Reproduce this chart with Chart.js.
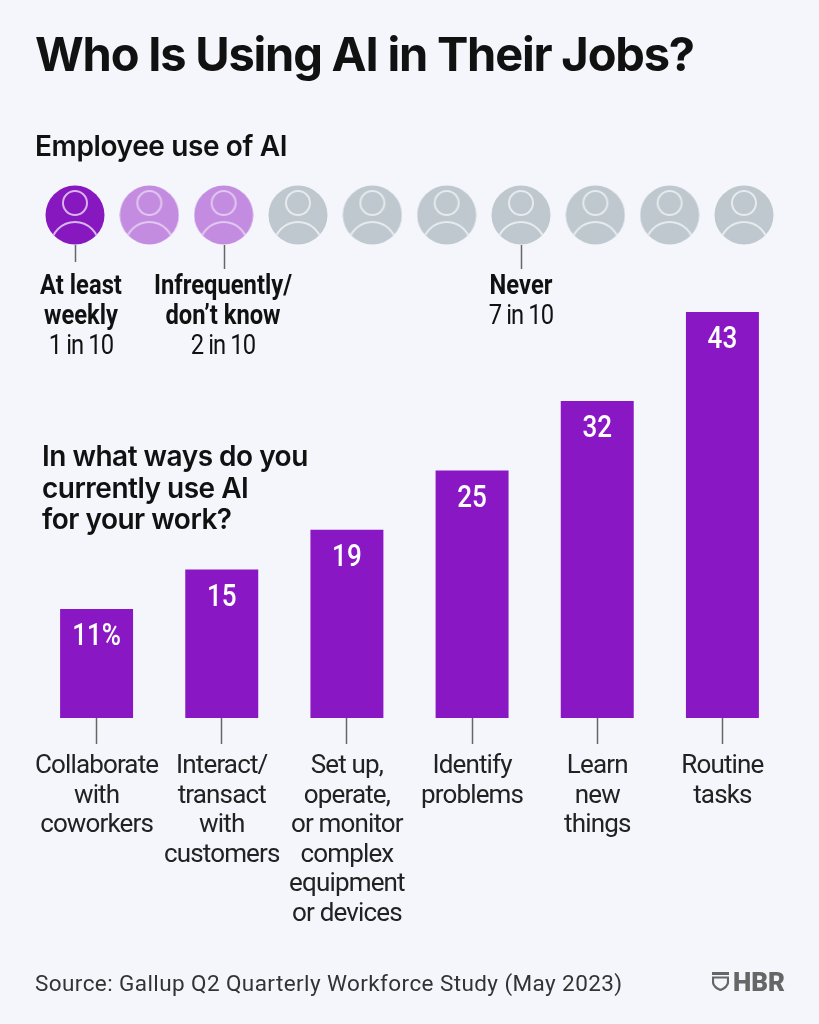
<!DOCTYPE html>
<html>
<head>
<meta charset="utf-8">
<title>Who Is Using AI in Their Jobs?</title>
<script src="https://cdn.jsdelivr.net/npm/chart.js@4/dist/chart.umd.min.js"></script>
<style>
  html, body { margin: 0; padding: 0; background: #f4f6fb; }
  #page { position: relative; width: 819px; height: 1024px; overflow: hidden; color: #111; font-family: Roboto, sans-serif; }
  canvas { position: absolute; left: 0; }
  #barChart { top: 0; }
  #peopleChart { top: 160px; }
  .txt { position: absolute; white-space: nowrap; }
  #title { left: 35px; top: 26px; font: 700 47px/56px Inter, sans-serif; letter-spacing: -1.2px; }
  #sub { left: 35px; top: 128px; font: 600 28px/36px Inter, sans-serif; letter-spacing: -0.38px; }
  #question { left: 42px; top: 441px; font: 600 28px/31.5px Inter, sans-serif; letter-spacing: -0.5px; }
  #source { left: 35px; top: 968px; font: 400 22.5px/30px Roboto, sans-serif; color: #333; letter-spacing: 0.41px; }
  #hbr { left: 733px; top: 966px; font: 900 26px/32px Roboto, sans-serif; color: #666; }
  #shield { position: absolute; left: 712px; top: 972px; }
  .group { position: absolute; top: 270px; width: 240px; margin-left: -120px; text-align: center; font: 400 27px/30px Roboto, sans-serif; color: #111; transform: scaleX(0.88); }
  .group b { font-weight: 700; }
  .group span { letter-spacing: -1px; }
</style>
</head>
<body>
<div id="page">
  <canvas id="barChart" width="819" height="1024"></canvas>
  <canvas id="peopleChart" width="819" height="110"></canvas>
  <div class="txt" id="title">Who Is Using AI in Their Jobs?</div>
  <div class="txt" id="sub">Employee use of AI</div>
  <div class="txt" id="question">In what ways do you<br>currently use AI<br>for your work?</div>
  <div class="txt" id="source">Source: Gallup Q2 Quarterly Workforce Study (May 2023)</div>
  <svg id="shield" width="17" height="19" viewBox="0 0 17 19">
    <rect x="0" y="0" width="17" height="3" fill="#666"/>
    <path d="M1 5.5H16V10C16 14 12 16.5 8.5 18C5 16.5 1 14 1 10Z" fill="none" stroke="#666" stroke-width="2.2"/>
  </svg>
  <div class="txt" id="hbr">HBR</div>
</div>
<script>
// bars
const categories = [
  ["Collaborate", "with", "coworkers"],
  ["Interact/", "transact", "with", "customers"],
  ["Set up,", "operate,", "or monitor", "complex", "equipment", "or devices"],
  ["Identify", "problems"],
  ["Learn", "new", "things"],
  ["Routine", "tasks"]
];
const values = [11, 15, 19, 25, 32, 43];
const valueLabels = ["11%", "15", "19", "25", "32", "43"];

// people row
const groupNames = [["At least", "weekly"], ["Infrequently/", "don’t know"], ["Never"]];
const groupCounts = [1, 2, 7];
const groupNotes = ["1 in 10", "2 in 10", "7 in 10"];
const groupFill = ["#8717bf", "#c48ce0", "#bec8ce"];
const groupLine = ["#d8b4ec", "#e2c8f0", "#e6ebee"];
const stemIdx = [0, 2, 6];
const stemEnd = [102, 109, 109];
const groupCentre = [81, 223, 521];

const page = document.getElementById("page");
groupNames.forEach(function (names, i) {
  var d = document.createElement("div");
  d.className = "group";
  d.style.left = groupCentre[i] + "px";
  d.innerHTML = "<b>" + names.join("<br>") + "</b><br><span>" + groupNotes[i] + "</span>";
  page.appendChild(d);
});

function personIcon(fill, line) {
  var c = document.createElement("canvas");
  c.width = 60;
  c.height = 60;
  var x = c.getContext("2d");
  x.beginPath();
  x.arc(30, 30, 29.5, 0, Math.PI * 2);
  x.fillStyle = fill;
  x.fill();
  x.clip();
  x.strokeStyle = line;
  x.lineWidth = 2;
  x.beginPath();
  x.arc(30, 18, 12, 0, Math.PI * 2);
  x.stroke();
  x.beginPath();
  x.arc(30, 61, 24, 0, Math.PI * 2);
  x.stroke();
  return c;
}

var peoplePoints = [], peopleIcons = [];
groupCounts.forEach(function (n, g) {
  var icon = personIcon(groupFill[g], groupLine[g]);
  for (let k = 0; k < n; ++k) {
    peoplePoints.push({ x: peoplePoints.length, y: 0.5 });
    peopleIcons.push(icon);
  }
});

const stems = {
  id: "stems",
  afterDatasetsDraw: function (chart) {
    var ctx = chart.ctx, sx = chart.scales.x, sy = chart.scales.y;
    ctx.save();
    ctx.strokeStyle = "#666";
    ctx.lineWidth = 1.5;
    stemIdx.forEach(function (p, i) {
      var px = Math.round(sx.getPixelForValue(p)) + 0.5;
      ctx.beginPath();
      ctx.moveTo(px, sy.getPixelForValue(0.5) + 30);
      ctx.lineTo(px, stemEnd[i]);
      ctx.stroke();
    });
    ctx.restore();
  }
};

new Chart(document.getElementById("peopleChart").getContext("2d"), {
  type: "scatter",
  data: { datasets: [{ data: peoplePoints, pointStyle: peopleIcons, pointRadius: 30, clip: false }] },
  options: {
    responsive: false,
    animation: false,
    layout: { padding: { left: 75, right: 75, top: 0, bottom: 0 } },
    plugins: { legend: { display: false }, tooltip: { enabled: false } },
    scales: {
      x: { display: false, min: 0, max: 9 },
      y: { display: false, min: 0, max: 1 }
    }
  },
  plugins: [stems]
});

const barValues = {
  id: "barValues",
  // Chart.js has no option for this, the tick labels just pick it up from the context
  beforeDraw: function (chart) {
    chart.ctx.letterSpacing = "-0.85px";
  },
  afterDatasetsDraw: function (chart) {
    var ctx = chart.ctx;
    chart.getDatasetMeta(0).data.forEach(function (bar, i) {
      var top = Math.max(bar.y, chart.chartArea.top);
      ctx.save();
      ctx.letterSpacing = "0px";
      ctx.fillStyle = "#fff";
      ctx.textAlign = "center";
      ctx.textBaseline = "middle";
      ctx.font = "500 31px Roboto, sans-serif";
      ctx.translate(bar.x, top + 28.5);
      ctx.scale(0.84, 1);
      ctx.fillText(valueLabels[i], 0, 0);
      ctx.restore();
    });
  }
};

new Chart(document.getElementById("barChart").getContext("2d"), {
  type: "bar",
  data: {
    labels: categories,
    datasets: [{ data: values, backgroundColor: "#8a17c4", barPercentage: 0.583, categoryPercentage: 1 }]
  },
  options: {
    responsive: false,
    animation: false,
    layout: { padding: { left: 34, right: 34, top: 312, bottom: 0 } },
    plugins: { legend: { display: false }, tooltip: { enabled: false } },
    scales: {
      x: {
        afterFit: function (s) { s.height = 306; },
        border: { display: false },
        grid: { drawOnChartArea: false, offset: false, tickLength: 26, tickColor: "#666", tickWidth: 1.5 },
        ticks: {
          color: "#222",
          padding: 8,
          maxRotation: 0,
          autoSkip: false,
          font: { family: "Roboto, sans-serif", size: 26, lineHeight: 1.135 }
        }
      },
      // the 43 bar is cut off in the source graphic, it stops at about 41 on the scale of the others
      y: { display: false, min: 0, max: 41 }
    }
  },
  plugins: [barValues]
});
</script>
</body>
</html>
